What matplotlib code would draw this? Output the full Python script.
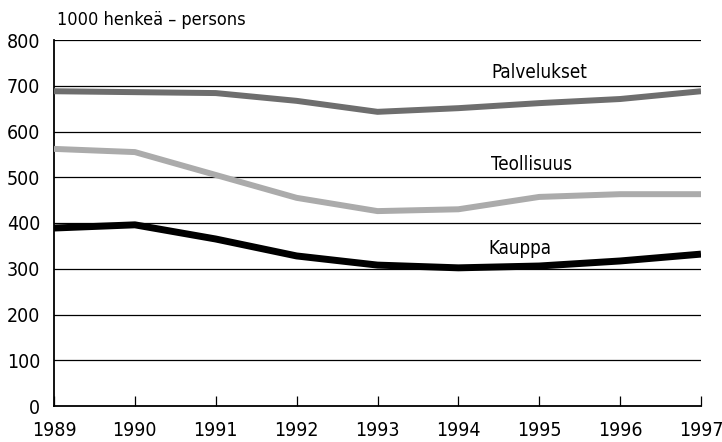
import matplotlib
matplotlib.use("Agg")
import matplotlib.pyplot as plt

years = [1989, 1990, 1991, 1992, 1993, 1994, 1995, 1996, 1997]
palvelukset = [688, 686, 684, 667, 643, 651, 662, 671, 688]
teollisuus = [562, 555, 505, 455, 426, 430, 457, 463, 463]
kauppa = [389, 396, 365, 328, 308, 302, 306, 317, 332]
yticks = [0, 100, 200, 300, 400, 500, 600, 700, 800]

plt.rcParams['font.family'] = ['DejaVu Sans']
plt.rcParams['font.stretch'] = 'condensed'

fig = plt.figure(figsize=(7.22, 4.42), dpi=100)
ax = fig.add_axes([54/722, 36/442, 647/722, 366/442])

for y in yticks[1:]:
    ax.axhline(y, color='black', lw=0.9, zorder=1)

ax.plot(years, palvelukset, color='#6e6e6e', lw=4.3, solid_capstyle='butt', solid_joinstyle='round', zorder=3)
ax.plot(years, teollisuus, color='#ababab', lw=4.3, solid_capstyle='butt', solid_joinstyle='round', zorder=3)
ax.plot(years, kauppa, color='black', lw=5.0, solid_capstyle='butt', solid_joinstyle='round', zorder=3)

ax.text(1995.0, 730, 'Palvelukset', ha='center', va='center', fontsize=13.5)
ax.text(1994.91, 527, 'Teollisuus', ha='center', va='center', fontsize=13.5)
ax.text(1994.76, 345, 'Kauppa', ha='center', va='center', fontsize=13.5)

ax.set_xlim(1989, 1997)
ax.set_ylim(0, 800)
ax.set_xticks(years)
ax.set_yticks(yticks)
ax.tick_params(axis='x', direction='in', length=7, width=0.9, labelsize=14, pad=11)
ax.tick_params(axis='y', length=0, labelsize=14, pad=10)
for s in ['top', 'right']:
    ax.spines[s].set_visible(False)
for s in ['left', 'bottom']:
    ax.spines[s].set_linewidth(1.3)

fig.text(57/722, 1 - 20/442, '1000 henkeä – persons', ha='left', va='center', fontsize=13)

fig.savefig('out.png', dpi=100)
